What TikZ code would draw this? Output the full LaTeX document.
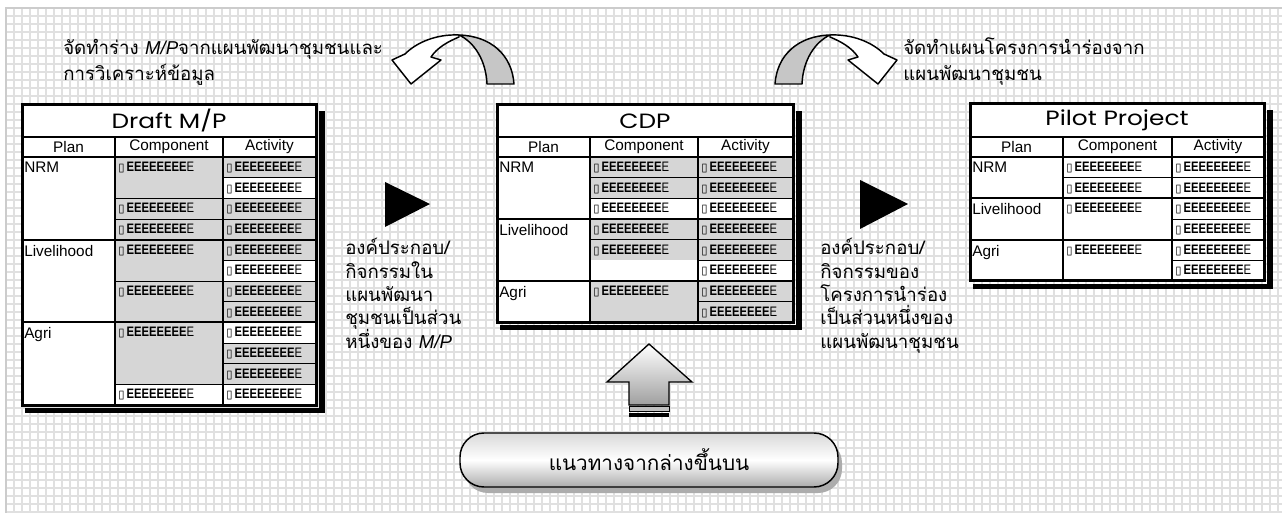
\documentclass[tikz,border=0pt]{standalone}
\usepackage{fontspec}
\setmainfont{Liberation Sans}
\newfontfamily\thai[Script=Thai]{Loma}
\newfontfamily\lat{Liberation Sans}
\newfontfamily\etf[FakeStretch=0.82]{Liberation Sans}
\newfontfamily\ttl[FakeStretch=1.2]{Poppins}
\newfontfamily\sym{DejaVu Sans}
\definecolor{cellgray}{rgb}{0.84,0.84,0.84}
\definecolor{gridgray}{rgb}{0.88,0.88,0.88}
\definecolor{framegray}{rgb}{0.8,0.8,0.8}
\tikzset{
  gridline/.style={draw=gridgray, line width=1.2pt},
  cellline/.style={draw=black, line width=0.75pt},
  secline/.style={draw=black, line width=1.5pt},
  outline/.style={draw=black, line width=2.25pt},
  etext/.style={font=\etf\fontsize{10.3}{11}\selectfont, anchor=west, inner sep=0pt},
  headtext/.style={font=\lat\fontsize{11.5}{13}\selectfont, inner sep=0pt},
  plantext/.style={font=\lat\fontsize{11.5}{13}\selectfont, anchor=north west, inner sep=0pt},
  titletext/.style={font=\ttl\fontsize{15.5}{17}\selectfont, inner sep=0pt},
  thaitext/.style={font=\thai\fontsize{14}{17}\selectfont, anchor=base west, inner sep=0pt},
  bigthai/.style={font=\thai\fontsize{15.5}{18}\selectfont, inner sep=0pt},
  arrowline/.style={draw=black, line width=1.1pt, line join=round},
}
\newcommand{\ecell}[5]{\filldraw[cellline, fill=#5] (#1,{157+(#3)*20.67}) rectangle (#2,{157+(#4)*20.67});}
\newcommand{\etx}[3]{\node[etext] (#1) at (#2+3,{157+(#3)*20.67+10.3}) {{\sym\fontsize{8.5}{9}\selectfont ▯}\hspace{1.5pt}\textbf{EEEEEEEE}E};}
\newcommand{\sline}[3]{\draw[secline] (#1,{157+(#3)*20.67}) -- (#2,{157+(#3)*20.67});}
\newcommand{\mktable}[8]{%
  \fill[black] (#6+3,#3+6) rectangle (#6+9,#7+8);
  \fill[black] (#2+3,#7+3) rectangle (#6+9,#7+8);
  \fill[white] (#2,#3) rectangle (#6,#7);
  \node[titletext] (#1-title) at ({(#2+#6)/2},{(#3+137)/2}) {#8};
  \node[headtext] (#1-plan) at ({(#2+#4)/2},147) {Plan};
  \node[headtext] (#1-comp) at ({(#4+#5)/2},147) {Component};
  \node[headtext] (#1-act) at ({(#5+#6)/2},147) {Activity};
}
\newcommand{\frametable}[6]{% L T c1 c2 R B
  \draw[secline] (#1,137) -- (#5,137);
  \draw[secline] (#1,157) -- (#5,157);
  \draw[secline] (#3,137) -- (#3,#6);
  \draw[secline] (#4,137) -- (#4,#6);
  \draw[outline] (#1,#2) rectangle (#5,#6);
}
\begin{document}
\begin{tikzpicture}[x=0.75pt, y=-0.75pt]
\useasboundingbox (0,0) rectangle (1282,513);
\fill[white] (0,0) rectangle (1282,513);
% background grid
\foreach \x in {14,22,...,1282} \draw[gridline] (\x,8) -- (\x,513);
\foreach \y in {16,24,...,513} \draw[gridline] (6,\y) -- (1282,\y);
\draw[framegray, line width=1.5pt] (6,513) -- (6,8) -- (1282,8);

% ---------- Draft M/P ----------
\mktable{d}{22}{105}{115}{223}{316}{405}{Draft M/P}
\ecell{115}{223}{0}{2}{cellgray}\etx{d-c0}{115}{0}
\ecell{115}{223}{2}{3}{cellgray}\etx{d-c2}{115}{2}
\ecell{115}{223}{3}{4}{cellgray}\etx{d-c3}{115}{3}
\ecell{115}{223}{4}{6}{cellgray}\etx{d-c4}{115}{4}
\ecell{115}{223}{6}{8}{cellgray}\etx{d-c6}{115}{6}
\ecell{115}{223}{8}{11}{cellgray}\etx{d-c8}{115}{8}
\ecell{115}{223}{11}{12}{white}\etx{d-c11}{115}{11}
\foreach \r/\f in {0/cellgray,1/white,2/cellgray,3/cellgray,4/cellgray,5/white,6/cellgray,7/cellgray,8/white,9/cellgray,10/cellgray,11/white}{\ecell{223}{316}{\r}{\r+1}{\f}\etx{d-a\r}{223}{\r}}
\sline{22}{316}{4}\sline{22}{316}{8}
\node[plantext] (d-nrm) at (24,162) {NRM};
\node[plantext] (d-liv) at (24,{157+4*20.67+5}) {Livelihood};
\node[plantext] (d-agr) at (24,{157+8*20.67+5}) {Agri};
\frametable{22}{105}{115}{223}{316}{405}

% ---------- CDP ----------
\mktable{c}{497}{105}{590}{698}{793}{322.33}{CDP}
\ecell{590}{698}{0}{1}{cellgray}\etx{c-c0}{590}{0}
\ecell{590}{698}{1}{2}{cellgray}\etx{c-c1}{590}{1}
\ecell{590}{698}{2}{3}{white}\etx{c-c2}{590}{2}
\ecell{590}{698}{3}{4}{cellgray}\etx{c-c3}{590}{3}
\fill[cellgray] (590,{157+4*20.67}) rectangle (698,{157+5*20.67});
\draw[cellline] (590,{157+4*20.67}) rectangle (698,{157+6*20.67});
\etx{c-c4}{590}{4}
\ecell{590}{698}{6}{8}{cellgray}\etx{c-c6}{590}{6}
\foreach \r/\f in {0/cellgray,1/cellgray,2/white,3/cellgray,4/cellgray,5/white,6/cellgray,7/cellgray}{\ecell{698}{793}{\r}{\r+1}{\f}\etx{c-a\r}{698}{\r}}
\sline{497}{793}{3}\sline{497}{793}{6}
\node[plantext] (c-nrm) at (499,162) {NRM};
\node[plantext] (c-liv) at (499,{157+3*20.67+5}) {Livelihood};
\node[plantext] (c-agr) at (499,{157+6*20.67+5}) {Agri};
\frametable{497}{105}{590}{698}{793}{322.33}

% ---------- Pilot Project ----------
\mktable{p}{970}{104}{1063}{1172}{1264}{281}{Pilot Project}
\ecell{1063}{1172}{0}{1}{white}\etx{p-c0}{1063}{0}
\ecell{1063}{1172}{1}{2}{white}\etx{p-c1}{1063}{1}
\ecell{1063}{1172}{2}{4}{white}\etx{p-c2}{1063}{2}
\ecell{1063}{1172}{4}{6}{white}\etx{p-c4}{1063}{4}
\foreach \r in {0,...,5}{\ecell{1172}{1264}{\r}{\r+1}{white}\etx{p-a\r}{1172}{\r}}
\sline{970}{1264}{2}\sline{970}{1264}{4}
\node[plantext] (p-nrm) at (972,162) {NRM};
\node[plantext] (p-liv) at (972,{157+2*20.67+5}) {Livelihood};
\node[plantext] (p-agr) at (972,{157+4*20.67+5}) {Agri};
\frametable{970}{104}{1063}{1172}{1264}{281}

% ---------- curved arrows ----------
% right
\filldraw[arrowline, fill=white] (830,35) .. controls (852,34) and (872,42) .. (884,54) -- (897,60) -- (878,84) -- (848,60) -- (858,57) .. controls (852,48) and (842,42) .. (830,37) -- cycle;
\filldraw[arrowline, fill=gray!45] (775,84) .. controls (777,55) and (798,36) .. (830,35) .. controls (815,42) and (803,60) .. (802,84) -- cycle;
% left (mirrored)
\filldraw[arrowline, fill=white] (459,35) .. controls (437,34) and (417,42) .. (405,54) -- (392,60) -- (411,84) -- (441,60) -- (431,57) .. controls (437,48) and (447,42) .. (459,37) -- cycle;
\filldraw[arrowline, fill=gray!45] (514,84) .. controls (512,55) and (491,36) .. (459,35) .. controls (474,42) and (486,60) .. (487,84) -- cycle;

% ---------- black triangles ----------
\fill[black] (385,182) -- (430,204) -- (385,227) -- cycle;
\fill[black] (860,180) -- (908,204) -- (860,229) -- cycle;

% ---------- texts ----------
\node[thaitext] (tl1) at (63,55) {จัดทำร่าง {\lat\itshape M/P}จากแผนพัฒนาชุมชนและ};
\node[thaitext] (tl2) at (63,81) {การวิเคราะห์ข้อมูล};
\node[thaitext] (tr1) at (903,55) {จัดทำแผนโครงการนำร่องจาก};
\node[thaitext] (tr2) at (903,81) {แผนพัฒนาชุมชน};

\node[thaitext] (ml1) at (345,255) {องค์ประกอบ/};
\node[thaitext] (ml2) at (345,278.3) {กิจกรรมใน};
\node[thaitext] (ml3) at (345,301.6) {แผนพัฒนา};
\node[thaitext] (ml4) at (345,325) {ชุมชนเป็นส่วน};
\node[thaitext] (ml5) at (345,348.3) {หนึ่งของ {\lat\itshape M/P}};

\node[thaitext] (mr1) at (820,255) {องค์ประกอบ/};
\node[thaitext] (mr2) at (820,278.3) {กิจกรรมของ};
\node[thaitext] (mr3) at (820,301.6) {โครงการนำร่อง};
\node[thaitext] (mr4) at (820,325) {เป็นส่วนหนึ่งของ};
\node[thaitext] (mr5) at (820,348.3) {แผนพัฒนาชุมชน};

% ---------- up arrow ----------
\shadedraw[top color=white, bottom color=gray!75, draw=black, line width=1pt, line join=miter] (649,344) -- (692,382) -- (669,382) -- (669,405) -- (629,405) -- (629,382) -- (607,382) -- cycle;
\filldraw[fill=gray!50, draw=black, line width=0.75pt] (629,406.5) rectangle (669,411);
\fill[black] (629,413) rectangle (669,417);

% ---------- bottom pill ----------
\fill[gray!65, rounded corners=18pt] (464,439) rectangle (842,493);
\shadedraw[rounded corners=18pt, top color=gray!30, bottom color=gray!65, middle color=white, draw=black, line width=1.1pt] (460,433) rectangle (838,487);
\node[bigthai] (bu) at (649,460) {แนวทางจากล่างขึ้นบน};
\end{tikzpicture}
\end{document}
